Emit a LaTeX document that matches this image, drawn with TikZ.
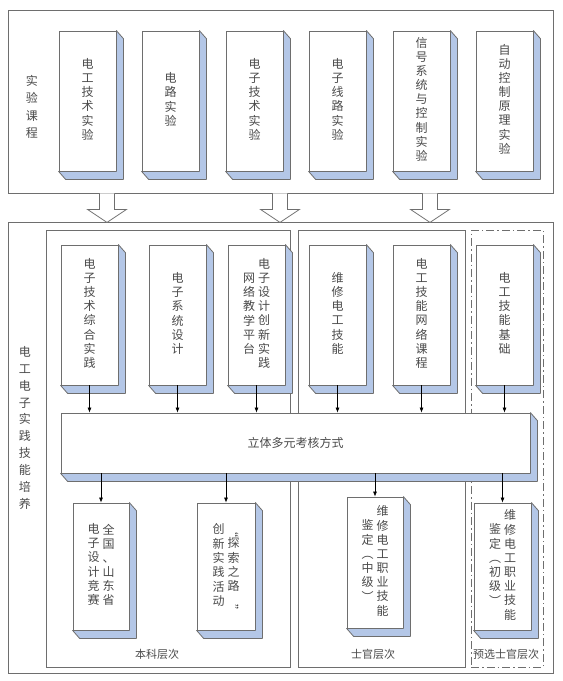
\documentclass[tikz,border=0pt]{standalone}
\usepackage{fontspec}
\usepackage{graphicx}
\newfontfamily\cjk{Noto Sans CJK SC}
\usetikzlibrary{arrows.meta}

\definecolor{linec}{HTML}{6E6E6E}
\definecolor{sidec}{HTML}{B4C7E7}
\definecolor{txt}{HTML}{4A4A4A}

% one column of vertical text
\newcommand\vcol[1]{\begin{tabular}[c]{@{}c@{}}#1\end{tabular}}

\tikzset{
  frame/.style={draw=linec, line width=0.8pt, inner sep=0},
  slab/.style={draw=linec, fill=white, line width=0.8pt, inner sep=0,
    minimum width=57, minimum height=140, text=txt,
    font=\cjk\fontsize{12}{14}\selectfont},
  side/.style={draw=linec, fill=sidec, line width=0.8pt, line join=round},
  vlabel/.style={inner sep=0, text=txt, font=\cjk\fontsize{12}{17.5}\selectfont},
  lbl/.style={inner sep=0, text=txt, font=\cjk\fontsize{11}{13}\selectfont},
  arr/.style={-{Latex[length=5pt,width=4pt]}, line width=0.7pt},
  fatarrow/.pic={\filldraw[draw=linec, fill=white, line width=0.8pt]
    (-7.5,0) -- (-7.5,16) -- (-19.5,16) -- (0,29) -- (19.5,16) -- (7.5,16) -- (7.5,0);}
}

\begin{document}
\begin{tikzpicture}[x=1pt, y=-1pt]
\useasboundingbox (0,0) rectangle (563,681);

% frames
\node[frame, minimum width=545, minimum height=183] (top) at (280.5,101.5) {};
\node[frame, minimum width=545, minimum height=451] (bot) at (280.5,447.5) {};
\node[frame, minimum width=244, minimum height=437] (bk) at (168,448.5) {};
\node[frame, minimum width=167, minimum height=437] (sg) at (381.5,448.5) {};
\node[frame, line width=1pt, dash pattern=on 8pt off 3pt on 1.5pt off 3pt,
  minimum width=72, minimum height=437] (yx) at (507,448.5) {};

\node[vlabel] (syl) at (32,108) {\vcol{实\\验\\课\\程}};
\node[vlabel, font=\cjk\fontsize{12}{16.9}\selectfont] (dgl) at (25,429)
{\vcol{电\\工\\电\\子\\实\\践\\技\\能\\培\\养}};

\node[lbl] (bkl) at (157,654) {本科层次};
\node[lbl] (sgl) at (373,654) {士官层次};
\node[lbl] (yxl) at (506,654) {预选士官层次};

% experiment courses
\node[slab] (dg) at (87.5,101) {\vcol{电\\工\\技\\术\\实\\验}};
\node[slab] (dl) at (170.5,101) {\vcol{电\\路\\实\\验}};
\node[slab] (dz) at (254.5,101) {\vcol{电\\子\\技\\术\\实\\验}};
\node[slab] (xl) at (337.5,101) {\vcol{电\\子\\线\\路\\实\\验}};
\node[slab] (xh) at (421.5,101) {\vcol{信\\号\\系\\统\\与\\控\\制\\实\\验}};
\node[slab] (zk) at (504.5,101) {\vcol{自\\动\\控\\制\\原\\理\\实\\验}};

\foreach \x in {107,280,430}
  \pic at (top.south -| \x,0) {fatarrow};

% practice skills
\node[slab] (zh) at (89.5,315) {\vcol{电\\子\\技\\术\\综\\合\\实\\践}};
\node[slab] (xt) at (177.5,315) {\vcol{电\\子\\系\\统\\设\\计}};
\node[slab] (cx) at (256.5,315)
{\vcol{网\\络\\教\\学\\平\\台}\hspace{3pt}\vcol{电\\子\\设\\计\\创\\新\\实\\践}};
\node[slab] (wx) at (337.5,315) {\vcol{维\\修\\电\\工\\技\\能}};
\node[slab] (wl) at (421.5,315) {\vcol{电\\工\\技\\能\\网\\络\\课\\程}};
\node[slab] (jc) at (504.5,315) {\vcol{电\\工\\技\\能\\基\\础}};

\node[slab, minimum width=469, minimum height=60] (kh) at (295.5,443) {立体多元考核方式};

\node[slab, minimum width=56, minimum height=127] (js) at (101,566.5)
{\vcol{电\\子\\设\\计\\竞\\赛}\hspace{3pt}\vcol{全\\国\\、\\山\\东\\省}};
\node[slab, minimum width=58, minimum height=127] (ts) at (226,566.5)
{\vcol{创\\新\\实\\践\\活\\动}\hspace{3pt}\vcol{\rotatebox{-90}{“}\\探\\索\\之\\路\\\rotatebox{-90}{”}}};
\node[slab, minimum width=56, minimum height=131] (zj) at (375,562.5)
{\vcol{鉴\\定\\︵\\中\\级\\︶}\hspace{3pt}\vcol{维\\修\\电\\工\\职\\业\\技\\能}};
\node[slab, minimum width=57, minimum height=127] (cj) at (502.5,566.5)
{\vcol{鉴\\定\\︵\\初\\级\\︶}\hspace{3pt}\vcol{维\\修\\电\\工\\职\\业\\技\\能}};

% depth faces
\foreach \n in {dg,dl,dz,xl,xh,zk,zh,xt,cx,wx,wl,jc,kh,js,ts,zj,cj}
  \filldraw[side] (\n.north east) -- ([shift={(7,8)}]\n.north east)
    -- ([shift={(7,8)}]\n.south east) -- ([shift={(7,8)}]\n.south west)
    -- (\n.south west) -- (\n.south east) -- cycle;

\foreach \n in {zh,xt,cx,wx,wl,jc}
  \draw[arr] (\n.south) -- (\n.south |- kh.north);
\foreach \n in {js,ts,zj,cj}
  \draw[arr] (kh.south -| \n.north) -- (\n.north);
\end{tikzpicture}
\end{document}
